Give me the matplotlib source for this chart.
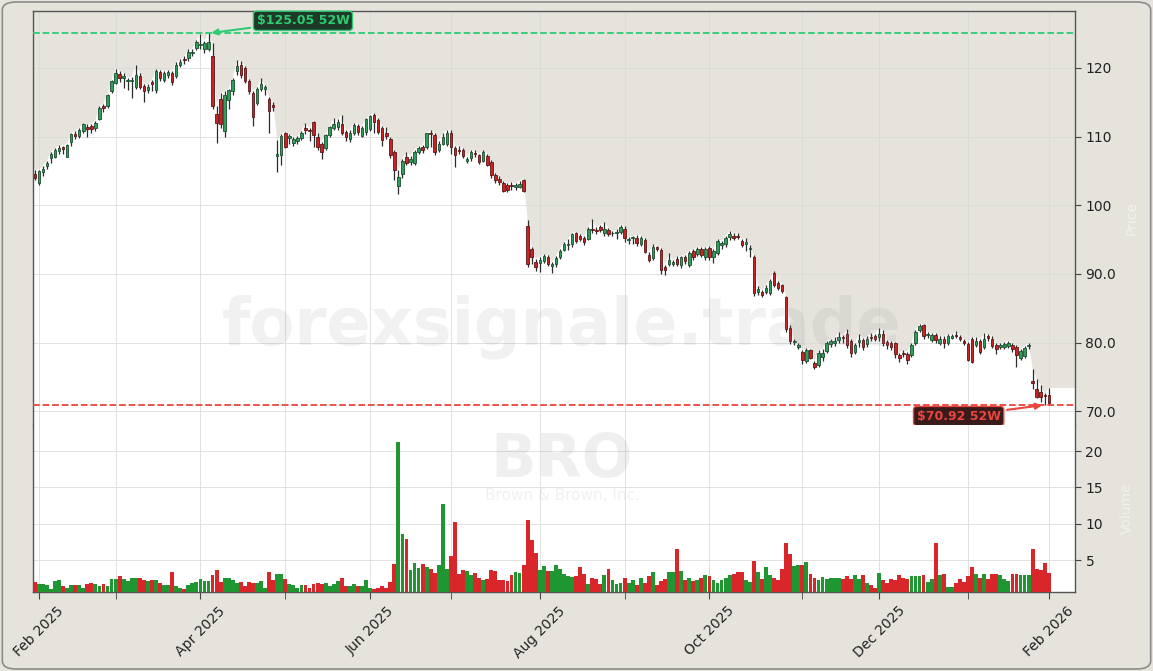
import matplotlib
matplotlib.use("Agg")
import matplotlib.pyplot as plt
import numpy as np
import pandas as pd
from matplotlib.patches import FancyBboxPatch

BG = "#e6e3dd"
UP_BODY, UP_EDGE = "#2f9e5b", "#1c4f2f"
DN_BODY, DN_EDGE = "#c92424", "#5e1616"
VOL_UP, VOL_DN = "#1f9632", "#d8262a"

# US market holidays inside the window (trading-day axis)
holidays = ["2025-02-17", "2025-04-18", "2025-05-26", "2025-06-19", "2025-07-04",
            "2025-09-01", "2025-11-27", "2025-12-25", "2026-01-01", "2026-01-19"]

opens = [
    104.5, 103.2, 104.8, 105.7, 106.9, 107.1, 107.9, 108.5, 107.1, 109.2,
    110.4, 110.1, 110.8, 111.4, 111.5, 111.3, 112.6, 114.5, 114.4, 116.6,
    117.8, 119.1, 118.6, 118.1, 118.1, 117.3, 118.8, 117.4, 116.8, 117.9,
    116.8, 119.4, 118.3, 119.0, 119.3, 118.8, 120.4, 121.3, 121.5, 122.2,
    122.9, 123.4, 122.7, 122.7, 121.8, 113.3, 115.5, 110.8, 115.4, 116.6,
    119.5, 120.4, 120.0, 118.1, 116.4, 114.9, 117.0, 117.0, 115.5, 114.6,
    107.2, 107.3, 110.5, 109.8, 109.1, 109.4, 109.8, 111.3, 111.0, 112.1,
    109.9, 108.9, 108.3, 110.2, 111.2, 111.4, 111.9, 110.7, 109.7, 110.5,
    111.5, 110.1, 110.7, 111.1, 113.1, 112.4, 111.2, 110.6, 109.7, 107.7,
    102.8, 104.6, 107.1, 106.3, 106.1, 107.8, 108.5, 108.5, 110.6, 110.2,
    108.1, 109.0, 108.9, 110.6, 108.3, 108.1, 108.1, 106.5, 106.9, 107.6,
    107.3, 106.5, 107.2, 106.3, 104.4, 103.9, 103.2, 102.9, 103.0, 102.6,
    102.7, 103.7, 97.0, 93.7, 91.8, 91.6, 91.9, 92.4, 91.2, 91.4,
    92.4, 93.5, 94.2, 94.3, 95.9, 95.5, 95.2, 95.1, 96.6, 96.4,
    96.8, 95.9, 96.4, 95.9, 95.9, 96.1, 96.6, 95.0, 95.2, 95.3,
    94.4, 94.9, 92.7, 92.3, 94.0, 93.5, 91.0, 91.4, 91.5, 92.2,
    91.3, 92.4, 91.3, 93.3, 92.9, 93.6, 92.4, 93.8, 92.4, 93.0,
    94.2, 94.4, 95.4, 95.6, 95.6, 94.8, 94.4, 93.6, 92.5, 87.4,
    87.4, 87.4, 87.3, 90.1, 88.7, 88.4, 86.6, 82.2, 80.1, 79.4,
    78.6, 77.3, 78.9, 77.0, 76.8, 77.9, 78.8, 79.8, 80.0, 80.4,
    80.8, 81.3, 80.2, 78.6, 80.1, 80.4, 79.8, 80.8, 80.9, 80.8,
    81.3, 80.1, 79.9, 79.9, 78.2, 78.4, 78.4, 78.2, 79.9, 81.8,
    82.5, 81.1, 80.4, 81.1, 79.9, 80.6, 79.9, 80.7, 81.1, 80.8,
    80.3, 79.8, 80.5, 79.7, 80.2, 79.4, 80.9, 80.6, 79.6, 79.4,
    79.4, 79.5, 79.6, 79.3, 77.7, 78.0, 79.5, 74.4, 73.3, 72.8,
    72.4, 72.3,
]

highs = [
    105.2, 105.2, 105.7, 106.5, 107.7, 108.3, 108.8, 108.7, 109.0, 110.6,
    110.8, 111.3, 112.0, 111.8, 111.9, 112.3, 114.5, 114.8, 116.2, 118.3,
    119.9, 119.6, 119.3, 118.6, 118.7, 120.5, 119.2, 117.6, 117.6, 118.3,
    119.8, 119.7, 119.6, 119.7, 119.6, 120.8, 121.3, 121.7, 122.7, 122.8,
    124.1, 125.0, 124.0, 125.05, 123.6, 114.5, 116.3, 116.6, 117.0, 118.6,
    121.1, 121.0, 120.3, 118.4, 116.7, 117.2, 118.5, 117.5, 115.8, 115.0,
    109.5, 110.4, 110.7, 110.4, 110.0, 110.1, 110.8, 112.0, 111.3, 112.3,
    110.5, 109.2, 110.4, 111.6, 112.7, 112.5, 113.2, 111.0, 111.0, 112.0,
    111.9, 111.5, 112.7, 113.2, 113.4, 112.7, 111.5, 111.4, 110.0, 108.0,
    105.1, 106.8, 107.8, 107.2, 108.1, 108.6, 108.8, 110.6, 110.9, 110.5,
    109.4, 110.5, 111.0, 110.9, 108.7, 108.6, 108.4, 107.0, 108.1, 108.0,
    107.5, 108.0, 107.5, 106.6, 104.7, 104.2, 103.5, 103.2, 103.4, 103.2,
    103.6, 103.9, 97.8, 94.0, 92.2, 92.5, 92.9, 92.7, 91.7, 92.6,
    93.7, 94.6, 95.1, 96.0, 96.1, 95.8, 95.5, 96.8, 98.0, 96.8,
    97.2, 97.5, 96.7, 96.3, 96.5, 97.2, 97.0, 95.4, 95.5, 95.7,
    95.6, 95.2, 93.2, 94.3, 94.1, 93.8, 91.3, 93.0, 92.0, 92.6,
    92.6, 92.8, 93.4, 93.6, 94.0, 93.9, 93.9, 94.1, 93.7, 95.1,
    94.8, 95.6, 96.3, 95.9, 96.0, 95.1, 95.2, 94.2, 92.7, 88.2,
    87.6, 88.4, 89.3, 90.4, 89.0, 88.6, 86.8, 82.5, 80.5, 80.0,
    78.9, 79.2, 79.1, 77.3, 78.9, 79.0, 80.3, 80.6, 80.8, 81.5,
    81.1, 82.0, 80.5, 80.0, 81.2, 80.7, 81.0, 81.4, 81.3, 82.2,
    81.8, 80.4, 80.2, 80.1, 78.5, 78.9, 78.7, 79.9, 81.9, 82.7,
    82.7, 81.6, 81.4, 81.4, 80.9, 80.9, 81.2, 81.2, 81.7, 81.1,
    80.6, 80.1, 80.8, 80.8, 80.5, 81.4, 81.2, 80.9, 79.9, 79.9,
    80.1, 80.3, 79.9, 79.6, 79.1, 79.5, 80.0, 76.2, 74.7, 73.9,
    72.6, 73.4,
]

lows = [
    103.7, 103.0, 104.3, 105.3, 106.2, 106.9, 107.5, 107.5, 107.0, 108.7,
    109.6, 109.8, 110.5, 110.0, 110.5, 110.8, 112.4, 113.6, 114.2, 116.4,
    117.6, 118.0, 117.1, 116.8, 115.6, 117.0, 116.9, 115.0, 116.4, 116.7,
    116.4, 118.1, 118.0, 118.6, 117.5, 118.5, 120.1, 120.6, 121.0, 121.7,
    122.6, 122.7, 122.2, 122.5, 114.0, 109.1, 111.2, 110.0, 114.0, 116.0,
    119.0, 118.6, 117.8, 116.2, 111.6, 114.6, 116.7, 116.1, 110.5, 113.8,
    104.9, 105.8, 108.3, 108.9, 108.6, 108.9, 109.5, 110.4, 109.3, 108.5,
    108.0, 106.8, 108.0, 110.0, 110.9, 111.0, 110.2, 109.3, 109.2, 110.2,
    110.2, 109.9, 110.3, 110.8, 110.5, 110.4, 108.7, 109.6, 106.9, 103.7,
    101.7, 104.0, 105.9, 105.8, 105.9, 107.5, 107.6, 108.2, 108.5, 107.3,
    107.7, 108.8, 108.6, 107.4, 105.6, 107.5, 106.9, 106.2, 106.5, 107.0,
    106.0, 106.3, 105.7, 104.0, 103.3, 103.0, 101.9, 102.0, 102.2, 102.2,
    102.5, 101.9, 91.0, 91.5, 90.5, 90.3, 91.6, 91.1, 90.1, 91.0,
    92.2, 93.3, 93.5, 94.0, 94.5, 94.8, 94.2, 94.9, 96.0, 95.8,
    96.1, 95.6, 95.5, 95.6, 95.1, 95.8, 94.7, 94.4, 94.3, 94.1,
    94.1, 93.0, 91.7, 92.0, 93.3, 90.0, 89.8, 91.2, 91.2, 91.1,
    90.9, 91.5, 91.0, 92.1, 92.6, 92.4, 92.0, 92.0, 91.6, 92.8,
    93.6, 94.0, 95.0, 95.0, 95.1, 93.9, 93.4, 92.5, 86.8, 87.0,
    86.6, 87.1, 87.0, 88.1, 87.6, 87.2, 81.5, 79.8, 79.6, 79.1,
    76.9, 77.1, 77.6, 76.1, 76.5, 77.3, 78.5, 79.4, 79.5, 80.0,
    80.0, 79.2, 77.9, 78.3, 79.4, 78.9, 79.4, 80.2, 80.2, 80.3,
    79.5, 79.1, 78.9, 77.8, 77.2, 77.9, 76.9, 77.9, 79.6, 81.5,
    80.6, 80.7, 80.1, 80.0, 79.6, 79.2, 79.6, 80.5, 80.7, 80.3,
    79.6, 77.3, 77.0, 79.3, 78.3, 79.1, 80.3, 79.2, 78.4, 79.0,
    79.0, 79.2, 78.7, 76.5, 77.4, 77.7, 79.1, 73.3, 71.9, 71.4,
    70.92, 71.0,
]

closes = [
    104.0, 105.0, 105.3, 106.2, 107.4, 108.1, 108.4, 108.2, 108.8, 110.4,
    110.1, 111.0, 111.8, 111.1, 111.1, 112.0, 114.2, 114.1, 116.0, 118.1,
    119.3, 118.5, 118.9, 118.3, 118.3, 119.0, 117.3, 116.6, 117.2, 117.7,
    119.5, 118.5, 119.3, 119.4, 118.0, 120.5, 120.8, 121.1, 122.4, 122.4,
    123.8, 123.5, 123.7, 123.8, 114.4, 112.0, 111.8, 116.1, 116.8, 118.3,
    120.3, 119.0, 118.1, 116.6, 112.9, 116.9, 117.7, 117.2, 113.8, 114.3,
    107.4, 110.1, 108.5, 110.1, 109.7, 109.8, 110.6, 110.9, 110.8, 110.2,
    108.5, 107.8, 110.2, 111.4, 111.9, 112.2, 110.5, 110.0, 110.5, 111.7,
    110.7, 111.2, 112.5, 113.0, 112.2, 110.7, 109.5, 110.1, 107.3, 105.1,
    104.1, 106.4, 106.2, 106.7, 107.8, 108.3, 108.0, 110.5, 110.4, 107.8,
    109.0, 109.9, 110.6, 108.5, 107.3, 107.9, 107.2, 106.8, 107.8, 107.4,
    106.3, 107.7, 105.9, 104.4, 103.7, 103.4, 102.1, 102.2, 102.8, 102.9,
    103.1, 102.1, 91.4, 92.5, 91.0, 92.1, 92.6, 91.4, 91.4, 92.3,
    93.4, 94.3, 94.4, 95.8, 94.8, 95.1, 94.6, 96.6, 96.4, 96.2,
    96.4, 96.5, 95.8, 96.0, 96.1, 96.8, 95.2, 95.1, 95.3, 94.5,
    95.2, 93.2, 92.1, 94.0, 93.6, 90.6, 90.6, 92.0, 91.7, 91.5,
    92.4, 91.9, 93.1, 92.4, 93.6, 92.7, 93.6, 92.4, 93.4, 94.8,
    94.5, 95.3, 95.8, 95.3, 95.4, 94.2, 94.6, 93.8, 87.2, 87.8,
    87.0, 88.0, 89.0, 88.4, 87.9, 87.5, 82.0, 80.3, 80.3, 79.7,
    77.5, 78.9, 77.8, 76.4, 78.5, 78.5, 80.0, 80.2, 80.3, 80.8,
    80.7, 79.6, 78.5, 79.6, 80.4, 79.3, 80.6, 80.7, 80.6, 81.3,
    79.9, 79.6, 79.4, 78.4, 77.7, 78.3, 77.5, 79.6, 81.6, 82.4,
    80.9, 81.3, 81.1, 80.4, 80.6, 79.9, 80.9, 80.9, 81.0, 80.5,
    80.0, 77.5, 77.2, 80.3, 78.6, 80.6, 80.7, 79.5, 79.1, 79.6,
    79.8, 80.0, 79.1, 78.2, 78.8, 79.2, 79.6, 74.1, 72.1, 72.1,
    72.2, 71.2,
]

# volume in millions
volumes = [
    2.0, 1.7, 1.7, 1.6, 1.0, 2.1, 2.2, 1.4, 1.1, 1.6,
    1.6, 1.6, 1.2, 1.7, 1.8, 1.7, 1.4, 1.7, 1.4, 2.4,
    2.4, 2.8, 2.4, 2.1, 2.6, 2.6, 2.6, 2.2, 2.1, 2.2,
    2.2, 1.8, 1.6, 1.6, 3.3, 1.4, 1.2, 1.0, 1.5, 1.9,
    2.0, 2.4, 2.1, 2.1, 2.9, 3.6, 2.0, 2.6, 2.6, 2.2,
    1.8, 2.0, 1.4, 2.0, 1.9, 1.8, 2.1, 1.2, 3.3, 2.2,
    3.1, 3.1, 2.4, 1.7, 1.5, 1.2, 1.6, 1.6, 1.1, 1.7,
    1.9, 1.7, 1.8, 1.4, 1.7, 2.1, 2.5, 1.4, 1.4, 1.7,
    1.4, 1.4, 2.2, 1.1, 1.0, 1.1, 1.4, 1.2, 2.0, 4.4,
    21.3, 8.6, 7.9, 3.6, 4.6, 3.9, 4.4, 4.0, 3.8, 3.2,
    4.3, 12.7, 3.8, 5.5, 10.2, 3.1, 3.6, 3.5, 2.9, 3.2,
    2.5, 2.2, 2.4, 3.6, 3.5, 2.2, 2.2, 2.1, 2.9, 3.3,
    3.2, 4.3, 10.5, 7.7, 6.0, 3.6, 4.2, 3.5, 3.5, 4.3,
    3.8, 3.1, 2.8, 2.7, 2.8, 4.0, 3.1, 1.7, 2.6, 2.4,
    1.7, 2.9, 3.8, 2.2, 1.7, 1.9, 2.6, 1.9, 2.3, 1.6,
    2.6, 1.9, 2.8, 3.3, 1.6, 2.1, 2.4, 3.3, 3.3, 6.5,
    3.5, 2.3, 2.6, 2.1, 2.2, 2.5, 2.9, 2.8, 2.2, 1.8,
    2.2, 2.6, 2.9, 3.1, 3.4, 3.3, 2.2, 2.0, 4.9, 3.3,
    2.4, 4.0, 2.9, 2.6, 2.2, 3.8, 7.4, 5.8, 4.2, 4.3,
    4.3, 4.7, 3.1, 2.5, 2.3, 2.7, 2.4, 2.6, 2.6, 2.6,
    2.4, 2.8, 2.4, 2.9, 2.4, 2.9, 1.8, 1.6, 1.1, 3.25,
    2.2, 1.9, 2.4, 2.2, 2.9, 2.6, 2.4, 2.8, 2.8, 2.8,
    2.9, 2.0, 2.4, 7.4, 2.9, 3.1, 1.3, 1.3, 1.8, 2.4,
    2.0, 2.8, 4.0, 3.1, 2.6, 3.1, 2.4, 3.1, 3.1, 2.9,
    2.4, 2.15, 3.1, 3.1, 2.9, 2.9, 2.9, 6.5, 3.8, 3.6,
    4.6, 3.25,
]

price_ticks = [70, 80, 90, 100, 110, 120]
price_tick_labels = ["70.0", "80.0", "90.0", "100", "110", "120"]
vol_ticks = [5, 10, 15, 20]
vol_tick_labels = ["5", "10", "15", "20"]

ticker = "BRO"
company = "Brown & Brown, Inc."
watermark = "forexsignale.trade"


def trading_days(n: int) -> pd.DatetimeIndex:
    days = pd.bdate_range("2025-01-31", "2026-02-27", freq="C", holidays=holidays)
    return days[:n]


def month_starts(dates: pd.DatetimeIndex):
    major, minor, labels = [], [], []
    for i in range(1, len(dates)):
        if dates[i].month != dates[i - 1].month:
            if dates[i].month % 2 == 0:
                major.append(i)
                labels.append(dates[i].strftime("%b %Y"))
            else:
                minor.append(i)
    return major, minor, labels


def draw_candles(ax, o, h, l, c):
    idx = np.arange(len(o))
    up = c >= o
    ax.vlines(idx, l, h, color="#2b2b2b", lw=0.9, zorder=3)
    bottom = np.minimum(o, c)
    height = np.maximum(np.abs(c - o), 0.12)
    ax.bar(idx, height, bottom=bottom, width=0.62,
           color=np.where(up, UP_BODY, DN_BODY),
           edgecolor=np.where(up, UP_EDGE, DN_EDGE), lw=0.6, zorder=4)


o = np.array(opens)
h = np.array(highs)
l = np.array(lows)
c = np.array(closes)
v = np.array(volumes)
n = len(c)
idx = np.arange(n)
dates = trading_days(n)
x_left, x_right = -0.45, n + 5.5

fig = plt.figure(figsize=(11.53, 6.71), dpi=100, facecolor=BG)
ax = fig.add_axes([0.0286, 0.3666, 0.9038, 0.617])
axv = fig.add_axes([0.0286, 0.1177, 0.9038, 0.2489], sharex=ax)

# price panel: white below the highs, background colour above
ax.set_facecolor("white")
fx = np.concatenate([[x_left], idx, [x_right]])
fy = np.concatenate([[h[0]], h, [h[-1]]])
ax.fill_between(fx, fy, 200, color=BG, lw=0, zorder=0.2)
draw_candles(ax, o, h, l, c)

hi_i, lo_i = int(np.argmax(h)), int(np.argmin(l))
ax.axhline(h[hi_i], color="#2ecc71", ls="--", lw=1.3, zorder=5)
ax.axhline(l[lo_i], color="#e8453c", ls="--", lw=1.3, zorder=5)
ax.annotate(f"${h[hi_i]:.2f} 52W", xy=(hi_i, h[hi_i]), xytext=(68, 9),
            textcoords="offset points", ha="center", va="center",
            color="#2ecc71", fontsize=9, fontweight="bold", zorder=10,
            bbox=dict(boxstyle="round,pad=0.25", fc="#1c3a27", ec="#2ecc71", lw=1),
            arrowprops=dict(arrowstyle="-|>", color="#2ecc71", lw=1.5, mutation_scale=9))
ax.annotate(f"${l[lo_i]:.2f} 52W", xy=(lo_i, l[lo_i]), xytext=(-62, -8),
            textcoords="offset points", ha="center", va="center",
            color="#e8453c", fontsize=9, fontweight="bold", zorder=10,
            bbox=dict(boxstyle="round,pad=0.25", fc="#3a1a1a", ec="#e8453c", lw=1),
            arrowprops=dict(arrowstyle="-|>", color="#e8453c", lw=1.5, mutation_scale=9))

ax.set_ylim(68.0, 128.3)
ax.set_xlim(x_left, x_right)
ax.yaxis.tick_right()
ax.set_yticks(price_ticks)
ax.set_yticklabels(price_tick_labels)
ax.yaxis.set_label_position("right")
ax.set_ylabel("Price", color="white", alpha=0.5, labelpad=6, fontsize=10)
ax.tick_params(axis="x", which="both", bottom=False, labelbottom=False)

# volume panel
axv.set_facecolor("white")
axv.bar(idx, v, width=0.95, color=np.where(c >= o, VOL_UP, VOL_DN), lw=0, zorder=3)
axv.set_ylim(0.6, 23.6)
axv.yaxis.tick_right()
axv.set_yticks(vol_ticks)
axv.set_yticklabels(vol_tick_labels)
axv.yaxis.set_label_position("right")
axv.set_ylabel("Volume", color="white", alpha=0.5, labelpad=12, fontsize=10)

major, minor, labels = month_starts(dates)
axv.set_xticks(major)
axv.set_xticklabels(labels, rotation=45)
axv.set_xticks(minor, minor=True)

for a in (ax, axv):
    a.grid(True, which="both", color="#d9d9d9", lw=0.7, alpha=0.8)
    a.set_axisbelow(True)
    a.tick_params(axis="y", which="both", length=4, color="#444", labelsize=10,
                  labelcolor="#222", direction="out")
    for s in a.spines.values():
        s.set_color("#555555")
        s.set_linewidth(1.0)
axv.tick_params(axis="x", which="both", length=5, color="#444", labelsize=10,
                labelcolor="#222")
ax.spines["bottom"].set_visible(False)
axv.spines["top"].set_visible(False)

# watermarks
fig.text(0.487, 0.513, watermark, ha="center", va="center", fontsize=47,
         fontweight="bold", color="#808080", alpha=0.11, zorder=20)
fig.text(0.487, 0.313, ticker, ha="center", va="center", fontsize=43,
         fontweight="bold", color="#808080", alpha=0.12, zorder=20)
fig.text(0.488, 0.262, company, ha="center", va="center", fontsize=11,
         color="#808080", alpha=0.11, zorder=20)

fig.patches.append(FancyBboxPatch((0.002, 0.003), 0.996, 0.994,
                                  boxstyle="round,pad=0,rounding_size=0.012",
                                  transform=fig.transFigure, fill=False,
                                  ec="#8c8c8c", lw=1.2))

fig.savefig("out.png", dpi=100, facecolor=BG)
